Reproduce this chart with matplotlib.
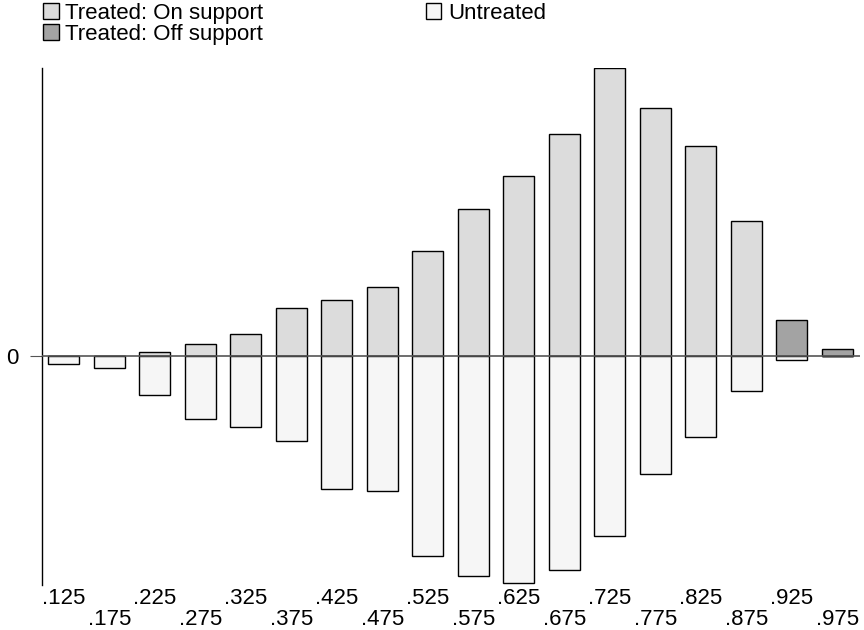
import matplotlib.pyplot as plt
from matplotlib.patches import Patch

plt.rcParams['font.family'] = ['Liberation Sans', 'DejaVu Sans']

# propensity score bins (bin centres)
bins = [.125, .175, .225, .275, .325, .375, .425, .475, .525,
        .575, .625, .675, .725, .775, .825, .875, .925, .975]
tick_labels = ['.125', '.175', '.225', '.275', '.325', '.375', '.425', '.475', '.525',
               '.575', '.625', '.675', '.725', '.775', '.825', '.875', '.925', '.975']

# frequencies (arbitrary units)
treated_on = [0, 0, 4, 12, 22, 48, 56, 69, 105, 147, 180, 222, 288, 248, 210, 135, 0, 0]
treated_off = [0, 0, 0, 0, 0, 0, 0, 0, 0, 0, 0, 0, 0, 0, 0, 0, 36, 7]
untreated = [8, 12, 39, 63, 71, 85, 133, 135, 200, 220, 227, 214, 180, 118, 81, 35, 4, 0]

fig = plt.figure(figsize=(8.64, 6.3), dpi=100)
ax = fig.add_axes([42/864, 1 - 585/630, 818/864, (585 - 68)/630])

w = 0.034
c_on, c_off, c_un = '#dcdcdc', '#a3a3a3', '#f6f6f6'

ax.bar(bins, treated_on, width=w, color=c_on, edgecolor='black', linewidth=1)
ax.bar(bins, treated_off, width=w, color=c_off, edgecolor='black', linewidth=1)
ax.bar(bins, [-u for u in untreated], width=w, color=c_un, edgecolor='black', linewidth=1)
ax.axhline(0, color='#555555', linewidth=1.2, zorder=5)

ax.set_xlim(0.101, 1.0)
ax.set_ylim(-229, 288)

for s in ['top', 'right', 'bottom']:
    ax.spines[s].set_visible(False)
ax.spines['left'].set_linewidth(1)

ax.set_yticks([0])
ax.set_yticklabels(['0'], fontsize=16)
ax.tick_params(axis='y', length=9, pad=8, color='#555555')

# staggered x labels
labels = [lab if i % 2 == 0 else '\n' + lab for i, lab in enumerate(tick_labels)]
ax.set_xticks(bins)
ax.set_xticklabels(labels, fontsize=16, linespacing=1.0)
ax.tick_params(axis='x', length=0, pad=2)

handles = [Patch(facecolor=c_on, edgecolor='black', label='Treated: On support'),
           Patch(facecolor=c_off, edgecolor='black', label='Treated: Off support'),
           Patch(facecolor=c_un, edgecolor='black', label='Untreated')]
fig.legend(handles=handles, ncol=2, loc='upper left', bbox_to_anchor=(43/864, 1 - 3/630),
           frameon=False, fontsize=16, handlelength=0.7, handleheight=0.7,
           handletextpad=0.3, columnspacing=7.3, labelspacing=0.0, borderpad=0,
           borderaxespad=0)

fig.savefig('out.png', dpi=100)
